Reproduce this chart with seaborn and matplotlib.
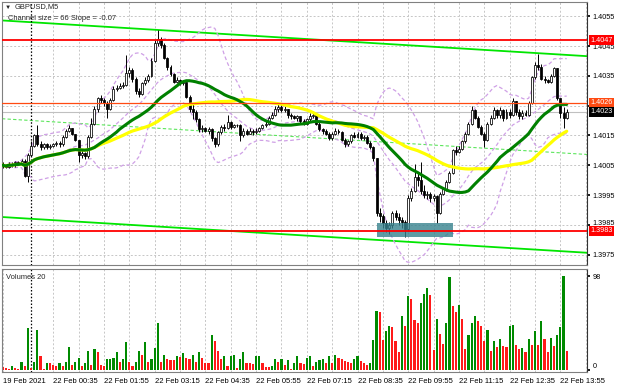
import numpy as np
import pandas as pd
import seaborn as sns
import matplotlib.pyplot as plt
from matplotlib.patches import Rectangle
from matplotlib.transforms import ScaledTranslation

sns.set_theme(style="white")
plt.rcParams["font.family"] = ["Liberation Sans", "DejaVu Sans"]

# GBPUSD M5 bars, 19 Feb 23:15 .. 22 Feb 14:05
first_open = 1.40050
close_px = [
    1.40050, 1.40045, 1.40055, 1.40050, 1.40060, 1.40055, 1.40065, 1.40015, 1.40085, 1.40115,
    1.40150, 1.40120, 1.40110, 1.40120, 1.40110, 1.40115, 1.40120, 1.40125, 1.40120, 1.40145,
    1.40165, 1.40175, 1.40155, 1.40135, 1.40085, 1.40090, 1.40080, 1.40145, 1.40190, 1.40240,
    1.40275, 1.40270, 1.40260, 1.40240, 1.40270, 1.40305, 1.40310, 1.40315, 1.40320, 1.40360,
    1.40370, 1.40340, 1.40300, 1.40290, 1.40325, 1.40335, 1.40350, 1.40400, 1.40460, 1.40475,
    1.40455, 1.40410, 1.40380, 1.40355, 1.40330, 1.40335, 1.40325, 1.40330, 1.40280, 1.40240,
    1.40230, 1.40205, 1.40170, 1.40175, 1.40165, 1.40170, 1.40140, 1.40120, 1.40160, 1.40180,
    1.40175, 1.40195, 1.40180, 1.40185, 1.40185, 1.40150, 1.40165, 1.40155, 1.40165, 1.40160,
    1.40165, 1.40175, 1.40185, 1.40190, 1.40210, 1.40220, 1.40240, 1.40245, 1.40235, 1.40240,
    1.40220, 1.40215, 1.40210, 1.40215, 1.40200, 1.40190, 1.40205, 1.40215, 1.40220, 1.40190,
    1.40170, 1.40165, 1.40155, 1.40140, 1.40155, 1.40165, 1.40160, 1.40135, 1.40120, 1.40130,
    1.40150, 1.40145, 1.40155, 1.40140, 1.40145, 1.40125, 1.40110, 1.40075, 1.39890, 1.39880,
    1.39855, 1.39840, 1.39850, 1.39890, 1.39875, 1.39865, 1.39860, 1.39835, 1.39940, 1.39965,
    1.40010, 1.40000, 1.39965, 1.39950, 1.39955, 1.39940, 1.39945, 1.39890, 1.39955, 1.39970,
    1.39995, 1.40025, 1.40100, 1.40095, 1.40105, 1.40130, 1.40155, 1.40190, 1.40235, 1.40210,
    1.40180, 1.40155, 1.40135, 1.40190, 1.40210, 1.40235, 1.40220, 1.40235, 1.40210, 1.40230,
    1.40220, 1.40265, 1.40230, 1.40215, 1.40225, 1.40220, 1.40260, 1.40345, 1.40385, 1.40380,
    1.40340, 1.40335, 1.40330, 1.40350, 1.40375, 1.40275, 1.40225, 1.40210, 1.40230,
]
high_px = [
    1.40060, 1.40055, 1.40060, 1.40060, 1.40065, 1.40065, 1.40070, 1.40070, 1.40090, 1.40130,
    1.40155, 1.40185, 1.40130, 1.40125, 1.40125, 1.40120, 1.40125, 1.40130, 1.40130, 1.40150,
    1.40170, 1.40185, 1.40175, 1.40155, 1.40135, 1.40100, 1.40095, 1.40150, 1.40210, 1.40250,
    1.40280, 1.40285, 1.40275, 1.40265, 1.40275, 1.40315, 1.40320, 1.40325, 1.40330, 1.40420,
    1.40380, 1.40375, 1.40345, 1.40310, 1.40330, 1.40345, 1.40355, 1.40410, 1.40470, 1.40505,
    1.40480, 1.40460, 1.40415, 1.40385, 1.40360, 1.40345, 1.40340, 1.40335, 1.40330, 1.40285,
    1.40255, 1.40235, 1.40210, 1.40185, 1.40180, 1.40180, 1.40175, 1.40145, 1.40165, 1.40185,
    1.40190, 1.40220, 1.40200, 1.40190, 1.40190, 1.40190, 1.40175, 1.40170, 1.40175, 1.40170,
    1.40175, 1.40180, 1.40190, 1.40200, 1.40215, 1.40230, 1.40250, 1.40255, 1.40255, 1.40250,
    1.40240, 1.40225, 1.40220, 1.40220, 1.40215, 1.40205, 1.40210, 1.40225, 1.40230, 1.40225,
    1.40195, 1.40175, 1.40170, 1.40160, 1.40160, 1.40175, 1.40170, 1.40165, 1.40140, 1.40135,
    1.40155, 1.40160, 1.40160, 1.40160, 1.40150, 1.40150, 1.40130, 1.40115, 1.40075, 1.39905,
    1.39885, 1.39865, 1.39860, 1.39895, 1.39900, 1.39890, 1.39875, 1.39865, 1.39950, 1.39975,
    1.40055, 1.40025, 1.40060, 1.39985, 1.39965, 1.39960, 1.39955, 1.39950, 1.39960, 1.39975,
    1.40000, 1.40030, 1.40105, 1.40115, 1.40115, 1.40135, 1.40160, 1.40195, 1.40250, 1.40240,
    1.40215, 1.40185, 1.40160, 1.40195, 1.40220, 1.40245, 1.40240, 1.40245, 1.40240, 1.40240,
    1.40240, 1.40275, 1.40265, 1.40240, 1.40235, 1.40235, 1.40265, 1.40350, 1.40395, 1.40425,
    1.40390, 1.40350, 1.40340, 1.40355, 1.40380, 1.40375, 1.40275, 1.40245, 1.40240,
]
low_px = [
    1.40040, 1.40040, 1.40040, 1.40045, 1.40045, 1.40050, 1.40050, 1.40010, 1.39995, 1.40080,
    1.40110, 1.40115, 1.40100, 1.40105, 1.40105, 1.40105, 1.40110, 1.40115, 1.40110, 1.40115,
    1.40140, 1.40160, 1.40150, 1.40130, 1.40060, 1.40075, 1.40070, 1.40075, 1.40140, 1.40185,
    1.40230, 1.40260, 1.40250, 1.40210, 1.40235, 1.40265, 1.40300, 1.40305, 1.40310, 1.40315,
    1.40345, 1.40330, 1.40290, 1.40280, 1.40285, 1.40320, 1.40330, 1.40345, 1.40395, 1.40450,
    1.40445, 1.40405, 1.40370, 1.40350, 1.40325, 1.40325, 1.40320, 1.40320, 1.40275, 1.40230,
    1.40205, 1.40195, 1.40160, 1.40160, 1.40160, 1.40155, 1.40130, 1.40110, 1.40115, 1.40155,
    1.40165, 1.40170, 1.40170, 1.40175, 1.40180, 1.40130, 1.40145, 1.40150, 1.40155, 1.40150,
    1.40155, 1.40160, 1.40170, 1.40180, 1.40185, 1.40205, 1.40215, 1.40230, 1.40230, 1.40230,
    1.40210, 1.40205, 1.40205, 1.40200, 1.40190, 1.40185, 1.40185, 1.40200, 1.40210, 1.40185,
    1.40165, 1.40155, 1.40150, 1.40135, 1.40135, 1.40150, 1.40155, 1.40130, 1.40110, 1.40115,
    1.40125, 1.40140, 1.40140, 1.40135, 1.40135, 1.40120, 1.40105, 1.40065, 1.39880, 1.39860,
    1.39840, 1.39825, 1.39820, 1.39840, 1.39865, 1.39850, 1.39840, 1.39810, 1.39830, 1.39930,
    1.39960, 1.39980, 1.39955, 1.39940, 1.39935, 1.39925, 1.39930, 1.39855, 1.39885, 1.39950,
    1.39965, 1.39990, 1.40020, 1.40085, 1.40090, 1.40100, 1.40125, 1.40150, 1.40185, 1.40205,
    1.40175, 1.40150, 1.40110, 1.40130, 1.40185, 1.40205, 1.40210, 1.40210, 1.40200, 1.40205,
    1.40210, 1.40215, 1.40220, 1.40205, 1.40205, 1.40215, 1.40215, 1.40255, 1.40340, 1.40370,
    1.40335, 1.40325, 1.40325, 1.40325, 1.40345, 1.40270, 1.40210, 1.40175, 1.40205,
]
tick_volume = [
    3.5, 2, 1, 4.5, 2, 1.5, 8.5, 4.5, 44, 2,
    8.5, 41.5, 15, 1.5, 7.5, 7, 5, 4.5, 7.5, 4.5,
    8, 24, 5, 8.5, 12.5, 4.5, 7.5, 19.5, 5, 21.5,
    19, 5, 4.5, 11, 11.5, 12, 19, 8.5, 11, 29.5,
    8.5, 4.5, 8.5, 20, 15.5, 29.5, 8, 11.5, 22.5, 48.5,
    8, 16, 11, 10.5, 10, 14.5, 14, 17.5, 12, 11,
    16, 8, 19, 12.5, 7.5, 7, 36.5, 30, 20, 11,
    14.5, 4.5, 14.5, 15.5, 2, 11, 19, 7.5, 7, 6.5,
    14.5, 15, 7.5, 3.5, 3, 4.5, 11, 8, 11, 5,
    10, 1.5, 7.5, 14.5, 7.5, 6.5, 13, 14.5, 4.5, 8.5,
    10, 11.5, 7, 14.5, 7, 15.5, 12.5, 11, 9.5, 8.5,
    7, 11.5, 14.5, 9.5, 7.5, 5, 7, 31, 61, 60,
    31, 41, 46, 44.5, 30, 19, 56, 46, 77, 74.5,
    52, 49.5, 69.5, 79, 85.5, 78.5, 20.5, 53, 37.5, 27,
    49, 97, 66.5, 60, 67.5, 53.5, 22, 36.5, 49, 56,
    51, 46, 30, 42, 19.5, 30, 24, 32, 25, 24,
    46, 46.5, 26.5, 21.5, 23, 19, 32, 26, 41, 26.5,
    51, 32, 19, 33, 24.5, 36.5, 44.5, 98, 20,
]

time_labels = ["19 Feb 2021", "22 Feb 00:35", "22 Feb 01:55", "22 Feb 03:15",
               "22 Feb 04:35", "22 Feb 05:55", "22 Feb 07:15", "22 Feb 08:35",
               "22 Feb 09:55", "22 Feb 11:15", "22 Feb 12:35", "22 Feb 13:55"]
label_bars = [0, 16, 32, 48, 64, 80, 96, 112, 128, 144, 160, 176]
day_start_bar = 9
price_ticks = [1.3975, 1.3985, 1.3995, 1.4005, 1.4015, 1.4025, 1.4035, 1.4045, 1.4055]

# levels drawn on the chart
levels = [1.4047, 1.4026, 1.3983]
level_colors = ["#ff0000", "#ff4a12", "#ff0000"]
bid = 1.4023
channel_top_at_0 = 1.40536   # upper channel line at bar 0
channel_slope = -0.0000065   # per bar
channel_size = 0.0066
zone_bars = (118, 142)
zone_prices = (1.39809, 1.39856)

bars = pd.DataFrame({"bar": np.arange(len(close_px)), "close": close_px,
                     "high": high_px, "low": low_px, "volume": tick_volume})
bars["open"] = bars["close"].shift(1).fillna(first_open)
bars["ma30"] = bars["close"].rolling(30, min_periods=1).mean()
bars["ma50"] = bars["close"].rolling(50, min_periods=1).mean()
mid = bars["close"].rolling(20, min_periods=1).mean()
sd = bars["close"].rolling(20, min_periods=1).std(ddof=0).fillna(0)
bars["bb_mid"] = mid
bars["bb_up"] = mid + 2 * sd
bars["bb_dn"] = mid - 2 * sd
bars["vol_dir"] = np.where(bars["volume"].diff() > 0, "up", "down")

W, H = 620, 388
fig = plt.figure(figsize=(W / 100, H / 100), dpi=100)


def px_axes(x0, y0, x1, y1):
    return fig.add_axes([x0 / W, 1 - y1 / H, (x1 - x0) / W, (y1 - y0) / H])


ax = px_axes(2, 2, 587, 265)
axv = px_axes(2, 269, 587, 372)
xlim = (-0.16, 184.4)
grid_kw = dict(color="#c6c6c6", linestyle=(0, (2, 2)), linewidth=0.7)

# --- price panel ---
ax.set_xlim(*xlim)
ax.set_ylim(1.39715, 1.40598)
ax.set_xticks(range(16, 185, 8))
ax.set_xticklabels([])
ax.set_yticks(price_ticks)
ax.set_yticklabels([f"{p:.4f}" if abs(p - 1.4025) > 1e-6 else "" for p in price_ticks])
ax.yaxis.tick_right()
ax.tick_params(axis="x", length=0)
ax.tick_params(axis="y", length=2, pad=2, labelsize=5.2, colors="black")
ax.grid(True, **grid_kw)
ax.set_axisbelow(True)
# the 1.3985 label sits just above the 1.3983 tag
lbl = ax.get_yticklabels()[1]
lbl.set_transform(lbl.get_transform() + ScaledTranslation(0, 2 / 72, fig.dpi_scale_trans))

# regression channel
xs = np.array(xlim)
top_line = channel_top_at_0 + channel_slope * xs
ax.plot(xs, top_line, color="#00e600", lw=1.3, zorder=2)
ax.plot(xs, top_line - channel_size, color="#00e600", lw=1.3, zorder=2)
ax.plot(xs, top_line - channel_size / 2, color="#5ce65c", lw=0.8,
        linestyle=(0, (3, 2)), zorder=2)

# horizontal levels and bid line
ax.axhline(bid, color="#c0c0c0", lw=0.8, zorder=1)
for lv, col in zip(levels, level_colors):
    ax.axhline(lv, color=col, lw=1.3 if col == "#ff0000" else 0.9, zorder=6)

ax.axvline(day_start_bar, color="black", lw=0.9, linestyle=(0, (1.2, 1.5)), zorder=2)

# bollinger bands
for col in ["bb_up", "bb_mid", "bb_dn"]:
    sns.lineplot(data=bars, x="bar", y=col, ax=ax, color="#cfa0e6", lw=0.9,
                 linestyle=(0, (3, 2)), zorder=2)

# candles
up = bars["close"] >= bars["open"]
ax.vlines(bars["bar"], bars["low"], bars["high"], color="black", lw=0.7, zorder=3)
ax.bar(bars["bar"], (bars["close"] - bars["open"]).abs(),
       bottom=np.minimum(bars["open"], bars["close"]), width=0.62,
       color=np.where(up, "white", "black"), edgecolor="black", linewidth=0.55, zorder=4)

# moving averages
sns.lineplot(data=bars, x="bar", y="ma50", ax=ax, color="#ffff00", lw=2.3, zorder=5)
sns.lineplot(data=bars, x="bar", y="ma30", ax=ax, color="#008000", lw=2.2, zorder=5)

ax.add_patch(Rectangle((zone_bars[0], zone_prices[0]), zone_bars[1] - zone_bars[0],
                       zone_prices[1] - zone_prices[0], facecolor="#37828e",
                       alpha=0.8, edgecolor="none", zorder=5))
ax.set_xlabel("")
ax.set_ylabel("")

# price tags on the right scale
tags = [(levels[0], level_colors[0]), (levels[1], level_colors[1]),
        (bid, "black"), (levels[2], level_colors[2])]
for val, col in tags:
    ax.text(1.006, val, f"{val:.4f}", transform=ax.get_yaxis_transform(),
            ha="left", va="center", fontsize=5.2, color="white", zorder=10,
            bbox=dict(boxstyle="square,pad=0.2", fc=col, ec="none"), clip_on=False)

# --- volume panel ---
sns.barplot(data=bars, x="bar", y="volume", hue="vol_dir",
            palette={"up": "#008a00", "down": "#ff1a1a"}, dodge=False,
            width=0.68, saturation=1, linewidth=0, legend=False, ax=axv)
axv.set_xlim(*xlim)
axv.set_ylim(-2.1, 105.3)
axv.set_xticks(label_bars)
axv.set_xticklabels(time_labels, ha="left")
axv.set_xticks(range(16, 185, 8), minor=True)
axv.xaxis.grid(True, which="both", **grid_kw)
axv.yaxis.grid(False)
axv.set_axisbelow(True)
axv.axvline(day_start_bar, color="black", lw=0.9, linestyle=(0, (1.2, 1.5)), zorder=0)
axv.yaxis.tick_right()
axv.set_yticks([0, 98])
axv.set_yticklabels(["0", "98"])
axv.get_yticklabels()[0].set_va("bottom")
axv.tick_params(axis="y", length=2, pad=2, labelsize=5.2, colors="black")
axv.tick_params(axis="x", which="major", length=2, pad=2, labelsize=5.5, colors="black")
axv.tick_params(axis="x", which="minor", length=0)
axv.set_xlabel("")
axv.set_ylabel("")
axv.text(0.007, 0.92, "Volumes 20", transform=axv.transAxes, fontsize=5.4, va="center")

for a in (ax, axv):
    for name, sp in a.spines.items():
        sp.set_color("#808080" if name != "right" else "#333333")
        sp.set_linewidth(0.8)

fig.text(5 / W, 1 - 7 / H, "▼", fontsize=4.5, va="center")
fig.text(15 / W, 1 - 7 / H, "GBPUSD,M5", fontsize=5.4, va="center")
fig.text(8 / W, 1 - 19 / H, "Channel size = 66 Slope = -0.07", fontsize=5.4, va="center")

fig.savefig("out.png", dpi=100)
